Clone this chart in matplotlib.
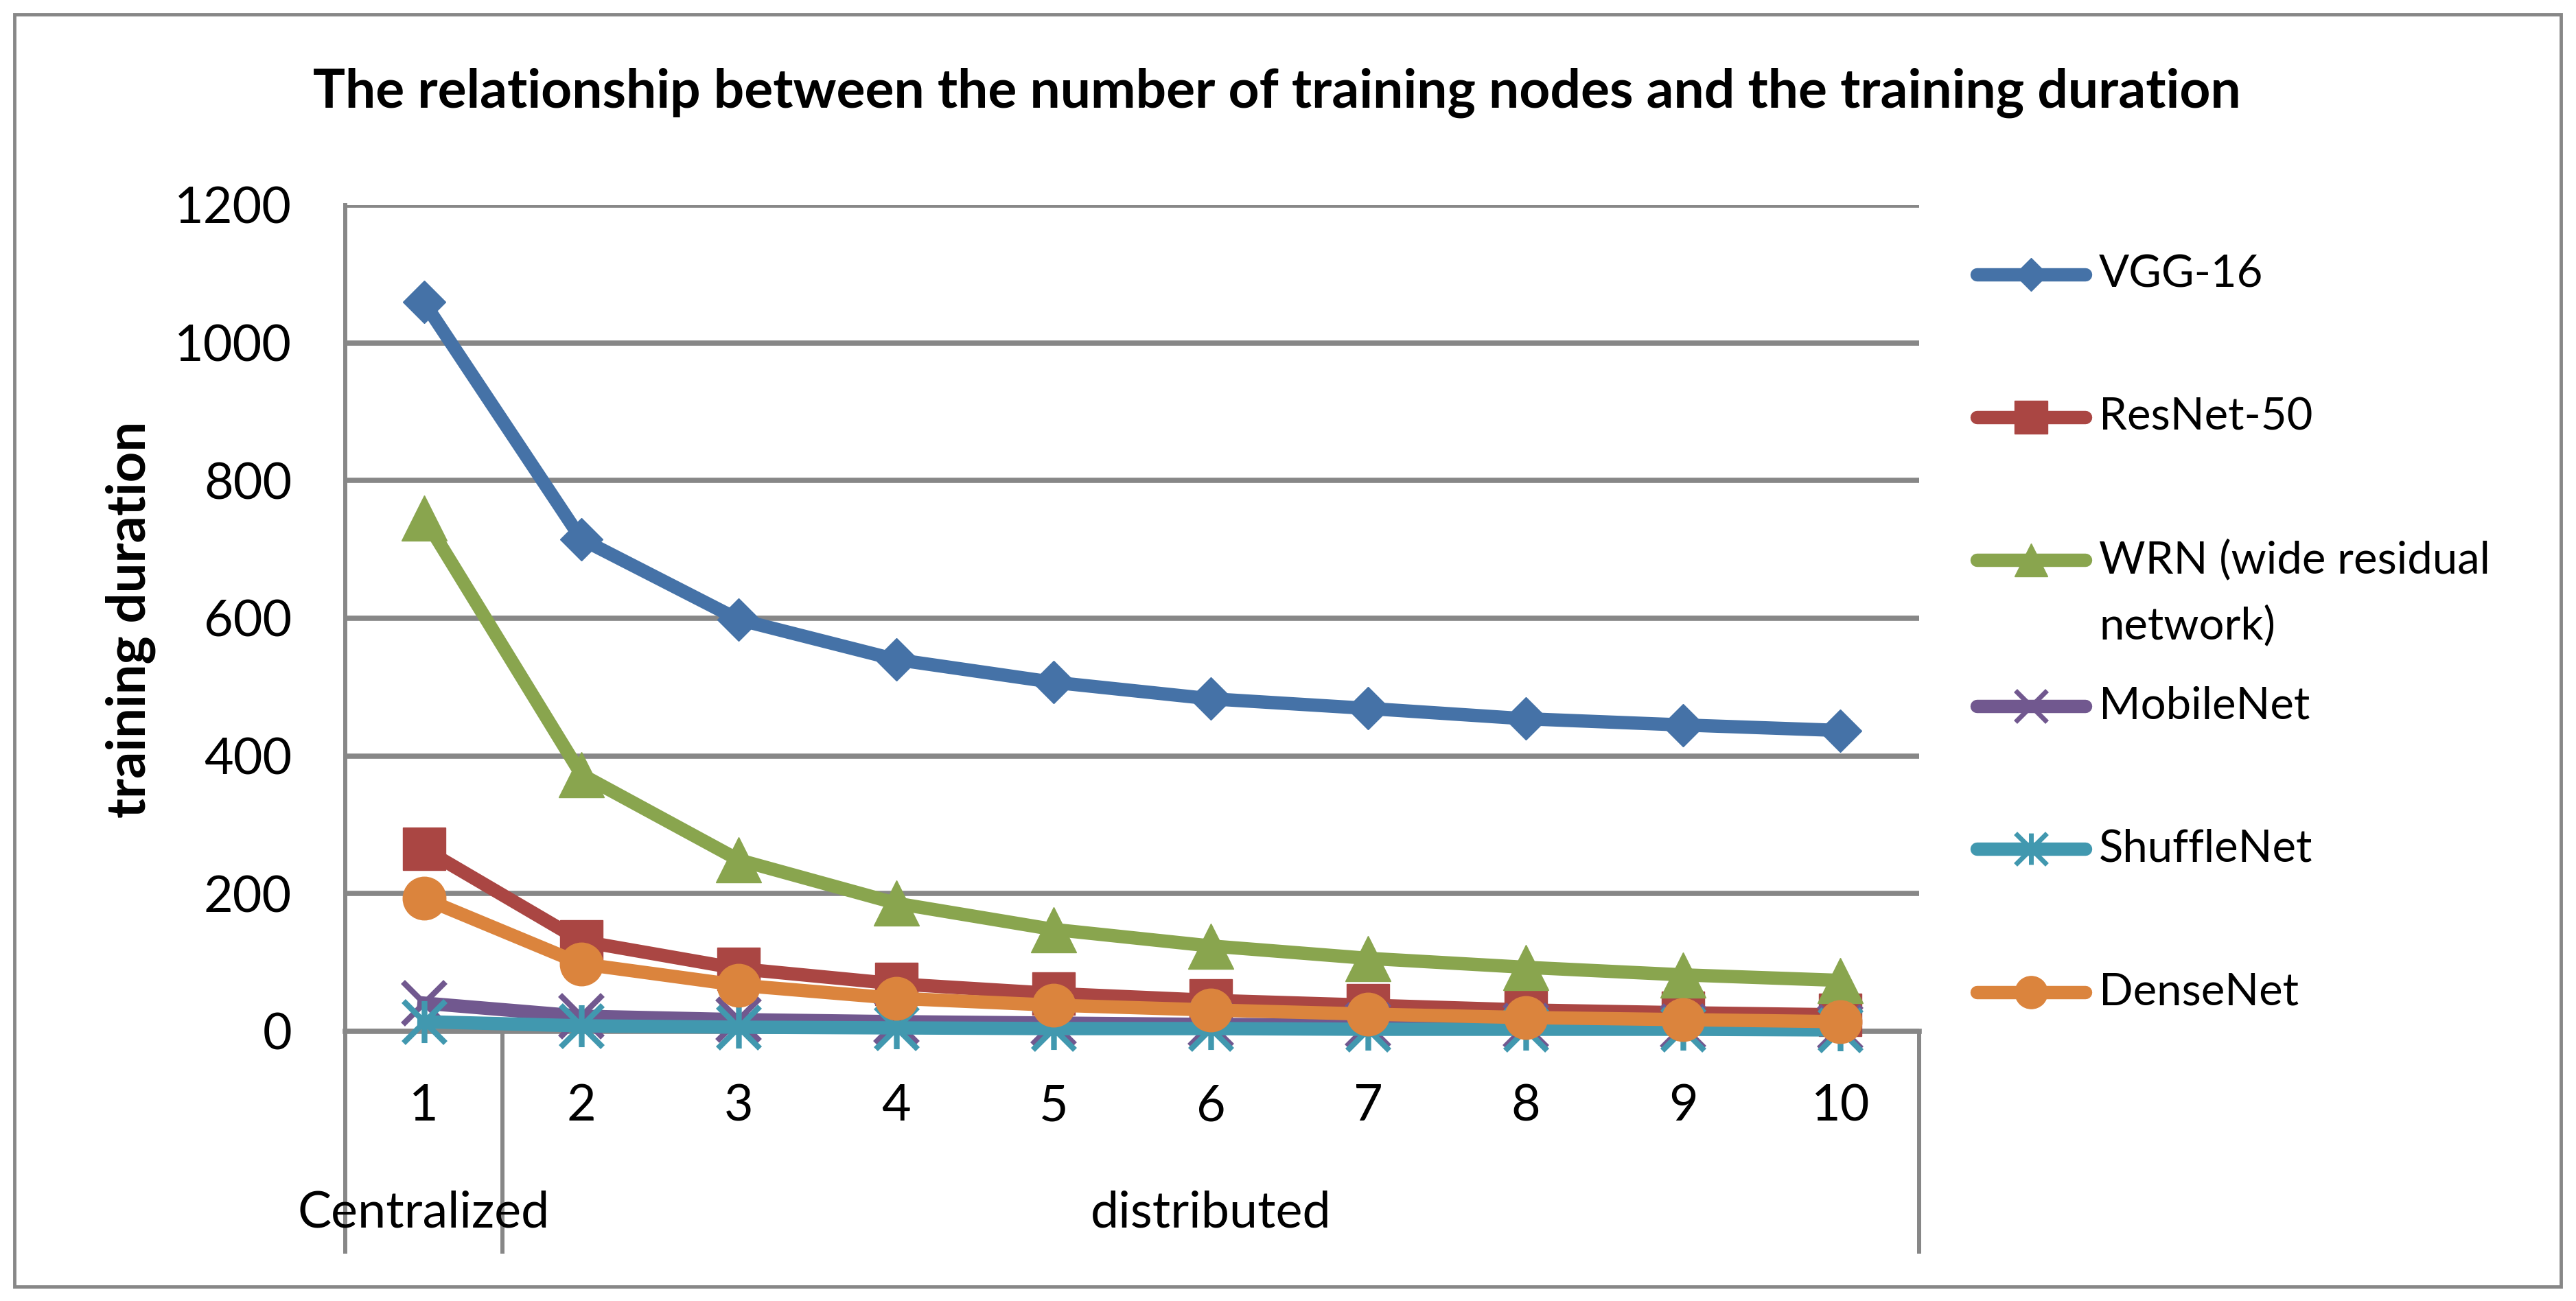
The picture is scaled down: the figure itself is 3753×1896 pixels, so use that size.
import matplotlib
matplotlib.use("Agg")
import matplotlib.pyplot as plt
import matplotlib.patches as patches
from matplotlib.lines import Line2D
from matplotlib.path import Path
from matplotlib.transforms import blended_transform_factory

plt.rcParams['font.family'] = ['Lato', 'DejaVu Sans']

W, H = 3753, 1896
DPI = 100

nodes = [1, 2, 3, 4, 5, 6, 7, 8, 9, 10]
node_labels = ['1', '2', '3', '4', '5', '6', '7', '8', '9', '10']

vgg16 = [1059, 715, 598, 540, 507, 483, 469, 454, 445, 437]
resnet50 = [265, 131, 91, 69, 55, 45, 38, 31, 27, 24]
wrn = [746, 373, 249, 186, 148, 124, 106, 93, 82, 74]
mobilenet = [41, 22, 17, 14, 12, 10, 9, 8, 7, 6]
shufflenet = [14, 8, 6, 5, 4, 4, 3, 3, 3, 2]
densenet = [193, 98, 67, 48, 38, 31, 25, 20, 17, 14]

series_names = ['VGG-16', 'ResNet-50', 'WRN (wide residual\nnetwork)',
                'MobileNet', 'ShuffleNet', 'DenseNet']
series_values = [vgg16, resnet50, wrn, mobilenet, shufflenet, densenet]
colors = ['#4572A7', '#AA4643', '#89A54E', '#71588F', '#4198AF', '#DB843D']

# excel style star: an x with a vertical bar
star = Path([(-1, -1), (1, 1), (-1, 1), (1, -1), (0, -1), (0, 1)],
            [Path.MOVETO, Path.LINETO, Path.MOVETO, Path.LINETO,
             Path.MOVETO, Path.LINETO])
markers = ['D', 's', '^', 'x', star, 'o']
msizes = [32, 44, 47, 44, 44, 45]
legend_ms = [24, 34, 35, 33, 33, 34]

GRID = '#878787'


def px(x, y):
    # pixel position (from top left) -> figure fraction
    return x / W, 1 - y / H


fig = plt.figure(figsize=(W / DPI, H / DPI), dpi=DPI)

# outer chart border
x0, y0 = px(21, 1875)
fig.patches.append(patches.Rectangle((x0, y0), (3731 - 21) / W, (1875 - 21) / H,
                                     transform=fig.transFigure, fill=False,
                                     edgecolor=GRID, lw=3.5))

left, top, right, bottom = 503, 299, 2796, 1503
ax = fig.add_axes([left / W, 1 - bottom / H, (right - left) / W, (bottom - top) / H])

for vals, c, m, ms in zip(series_values, colors, markers, msizes):
    filled = m not in ('x',) and not isinstance(m, Path)
    ax.plot(nodes, vals, color=c, lw=14, marker=m, ms=ms,
            mfc=c if filled else 'none', mec=c, mew=6 if not filled else 1,
            solid_joinstyle='round', clip_on=False, zorder=3)

ax.set_xlim(0.5, 10.5)
ax.set_ylim(0, 1200)
ax.set_yticks(range(0, 1201, 200))
ax.set_yticklabels([str(v) for v in range(0, 1201, 200)])
ax.set_xticks(nodes)
ax.set_xticklabels(node_labels)
ax.tick_params(axis='y', length=0, pad=56, labelsize=53)
ax.tick_params(axis='x', length=0, pad=55, labelsize=53)

ax.yaxis.grid(True, color=GRID, lw=5.5)
ax.set_axisbelow(True)
for s in ['top', 'right']:
    ax.spines[s].set_visible(False)
ax.spines['left'].set_color(GRID)
ax.spines['left'].set_linewidth(4.3)
ax.spines['bottom'].set_color(GRID)
ax.spines['bottom'].set_linewidth(5.5)

# category group separators and labels under the x axis
trans = blended_transform_factory(ax.transData, ax.transAxes)
sep_bottom = (bottom - 1824) / (bottom - top)
for xs in [0.5, 1.5, 10.5]:
    ax.add_line(Line2D([xs, xs], [0, sep_bottom], transform=trans, color=GRID,
                       lw=4.3, clip_on=False))
grp_y = (bottom - 1768) / (bottom - top)
ax.text(1, grp_y, 'Centralized', transform=trans, ha='center', va='center',
        fontsize=53)
ax.text(6, grp_y, 'distributed', transform=trans, ha='center', va='center',
        fontsize=53)

# title and y label
tx, ty = px(1860, 157)
fig.text(tx, ty, 'The relationship between the number of training nodes and the training duration',
         ha='center', va='baseline', fontsize=56.5, fontweight='bold')
lx, ly = px(212, 903)
fig.text(lx, ly, 'training duration', rotation=90, ha='center', va='baseline',
         fontsize=56, fontweight='bold', rotation_mode='anchor')

# legend on the right, drawn by hand to keep Excel's layout
legend_y = [400, 608, 816, 1029, 1237, 1446]
for name, c, m, lms, yy in zip(series_names, colors, markers, legend_ms, legend_y):
    filled = m not in ('x',) and not isinstance(m, Path)
    xa, ya = px(2880, yy)
    xb, _ = px(3038, yy)
    xm, _ = px(2959, yy)
    fig.add_artist(Line2D([xa, xb], [ya, ya], transform=fig.transFigure, color=c,
                          lw=14, solid_capstyle='round'))
    fig.add_artist(Line2D([xm], [ya], transform=fig.transFigure, color=c,
                          marker=m, ms=lms, mfc=c if filled else 'none', mec=c,
                          mew=5 if not filled else 1, lw=0))
    first = name.split('\n')[0]
    txx, _ = px(3058, yy)
    fig.text(txx, ya, first, ha='left', va='center', fontsize=47)
    if '\n' in name:
        _, y2 = px(0, yy + 96)
        fig.text(txx, y2, name.split('\n')[1], ha='left', va='center', fontsize=47)

fig.savefig('out.png', dpi=DPI, facecolor='white')
